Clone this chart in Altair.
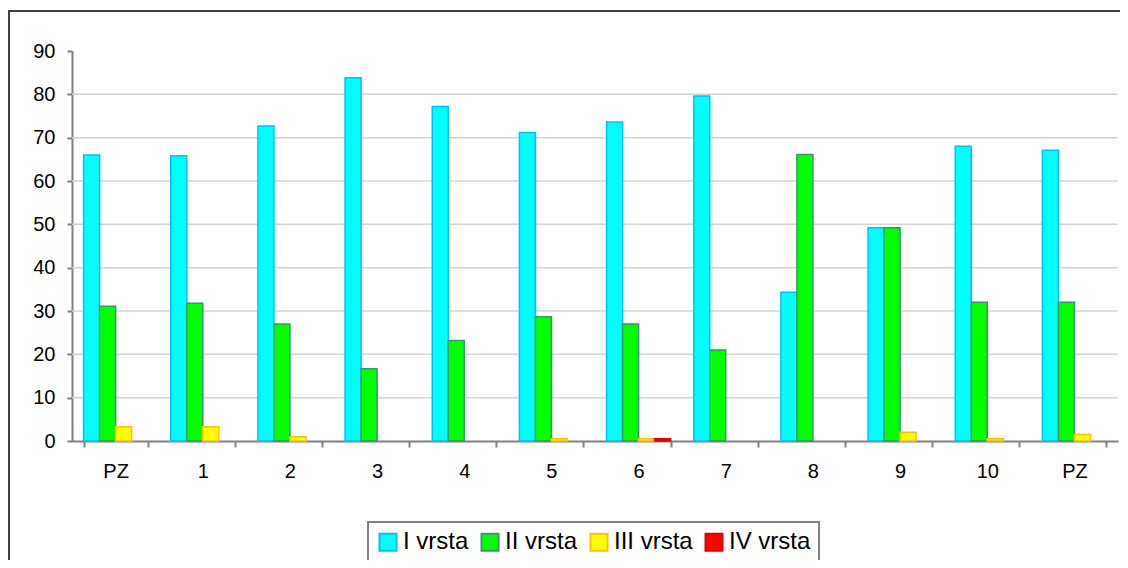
import altair as alt
import pandas as pd

categories = ["PZ", "1", "2", "3", "4", "5", "6", "7", "8", "9", "10", "PZ"]
series = ["I vrsta", "II vrsta", "III vrsta", "IV vrsta"]
s1 = [66, 65.8, 72.7, 83.8, 77.2, 71.2, 73.6, 79.6, 34.3, 49.2, 68, 67.1]
s2 = [31.1, 31.8, 27, 16.7, 23.2, 28.7, 27, 21, 66.1, 49.2, 32, 32]
s3 = [3.3, 3.3, 1.0, 0, 0, 0.5, 0.5, 0, 0, 2.0, 0.5, 1.5]
s4 = [0, 0, 0, 0, 0, 0, 0.5, 0, 0, 0, 0, 0]
fills = ["#00FFFF", "#00FF00", "#FFFF00", "#FF0000"]
strokes = ["#00BFFF", "#339966", "#FFC000", "#E00000"]
grid_values = [10, 20, 30, 40, 50, 60, 70, 80]
y_ticks = list(range(0, 95, 5))

rows = []
for name, vals in zip(series, [s1, s2, s3, s4]):
    for i, v in enumerate(vals):
        rows.append({"idx": i, "series": name, "value": v})
df = pd.DataFrame(rows)

label_expr = "[" + ",".join("'%s'" % c for c in categories) + "][datum.value]"

x_enc = alt.X(
    "idx:O",
    title=None,
    scale=alt.Scale(paddingInner=0.266, paddingOuter=0.133),
    axis=alt.Axis(
        labelExpr=label_expr,
        labelAngle=0,
        tickBand="extent",
        tickSize=6,
        labelPadding=14,
        labelFontSize=20,
    ),
)
y_scale = alt.Scale(domain=[0, 90], nice=False)

grid = alt.Chart(pd.DataFrame({"g": grid_values})).mark_rule(
    stroke="#d4d4d4", strokeWidth=1.5
).encode(y=alt.Y("g:Q", scale=y_scale))

bars = alt.Chart(df).transform_filter("datum.value > 0").mark_bar(strokeWidth=1.5).encode(
    x=x_enc,
    xOffset=alt.XOffset("series:N", sort=series,
                        scale=alt.Scale(domain=series, paddingInner=0, paddingOuter=0)),
    y=alt.Y("value:Q", scale=y_scale, title=None,
            axis=alt.Axis(values=y_ticks,
                          labelExpr="datum.value % 10 == 0 ? datum.label : ''",
                          grid=False, tickSize=5, labelPadding=12,
                          labelFontSize=20)),
    color=alt.Color("series:N", sort=series,
                    scale=alt.Scale(domain=series, range=fills),
                    legend=alt.Legend(title=None)),
    stroke=alt.Stroke("series:N", sort=series,
                      scale=alt.Scale(domain=series, range=strokes),
                      legend=alt.Legend(title=None)),
)

border = alt.Chart(pd.DataFrame({"a": [0]})).mark_rect(
    fillOpacity=0, stroke="#404040", strokeWidth=2
).encode(
    x=alt.value(-63), x2=alt.value(1300), y=alt.value(-40), y2=alt.value(800)
)

chart = alt.layer(grid, bars, border).properties(
    width=1046,
    height=390,
    padding={"left": 64, "top": 43, "right": 2, "bottom": 119},
    autosize=alt.AutoSizeParams(type="none"),
).configure_view(stroke=None).configure_axis(
    domainColor="#808080",
    domainWidth=2,
    tickColor="#808080",
    tickWidth=2,
    labelFont="Liberation Sans",
    labelColor="#000000",
).configure_legend(
    orient="none",
    legendX=296,
    legendY=471,
    direction="horizontal",
    strokeColor="#808080",
    strokeWidth=2,
    padding=8,
    symbolType="square",
    symbolSize=289,
    symbolStrokeWidth=2,
    symbolOpacity=1,
    labelFont="Liberation Sans",
    labelFontSize=24,
    labelColor="#000000",
    labelOffset=3,
    columnPadding=8,
    fillColor="#FFFFFF",
)

chart.save("out.html", embed_options={"renderer": "svg", "actions": False})
